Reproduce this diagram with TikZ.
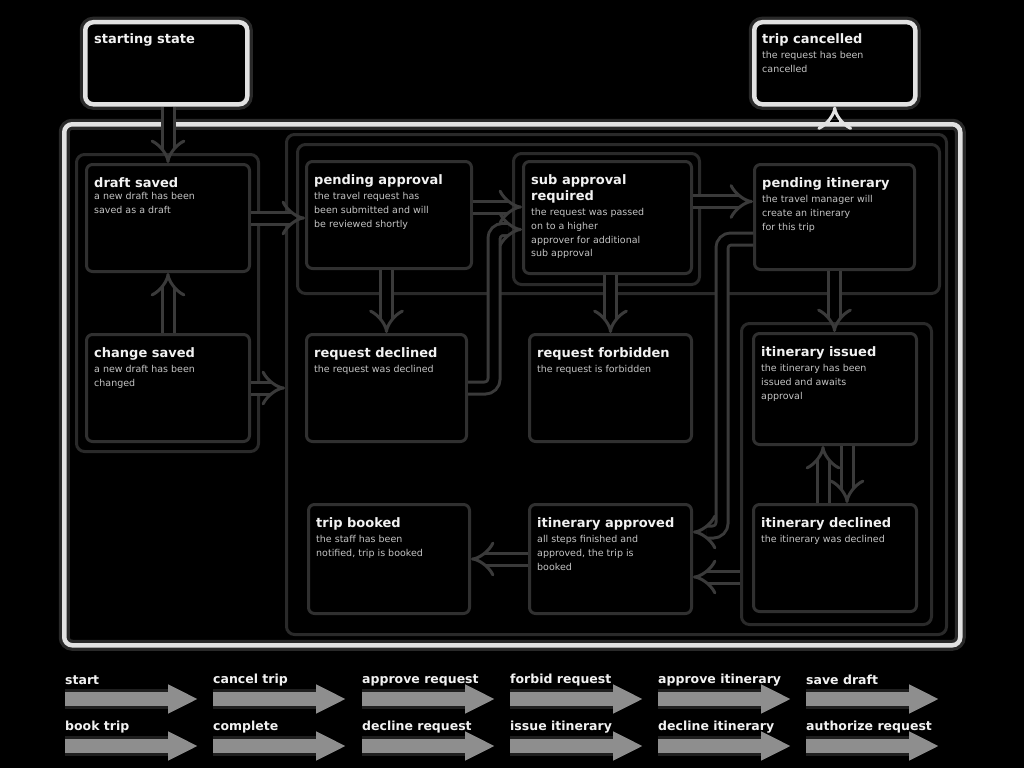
\documentclass[tikz,border=0pt]{standalone}
\usepackage{fontspec}
\setmainfont{DejaVu Sans}
\usetikzlibrary{arrows.meta,calc}
\definecolor{bright}{HTML}{E2E2E2}
\definecolor{boxline}{HTML}{303030}
\definecolor{grpline}{HTML}{2A2A2A}
\definecolor{arrline}{HTML}{3A3A3A}
\definecolor{legarrow}{HTML}{8E8E8E}
\definecolor{titlec}{HTML}{F2F2F2}
\definecolor{descc}{HTML}{C4C4C4}
\tikzset{
  glow/.style={preaction={draw=white, draw opacity=0.16, line width=11pt}},
  brightbox/.style={draw=bright, line width=4.5pt, rounded corners=8pt, anchor=north west, inner sep=0, glow},
  grpbox/.style={draw=grpline, line width=3pt, rounded corners=8pt, anchor=north west, inner sep=0},
  stbox/.style={draw=boxline, line width=3pt, rounded corners=6pt, fill=black, anchor=north west, inner sep=0},
  ttl/.style={anchor=north west, inner sep=0, font=\bfseries\fontsize{13}{16}\selectfont, text=titlec, align=left},
  dsc/.style={anchor=north west, inner sep=0, yshift=-5pt, font=\fontsize{9.5}{13.8}\selectfont, text=descc, align=left},
  fat/.style={draw=arrline, line width=3pt, double=black, double distance=9pt, -{Implies}, rounded corners=9pt},
  fatbright/.style={draw=bright, line width=3pt, double=black, double distance=9pt, -{Implies}},
  legar/.style={draw=legarrow, line width=14pt, -{Triangle[length=30pt,width=27pt]}, preaction={draw=white, draw opacity=0.12, line width=20pt}},
  legtxt/.style={anchor=west, inner sep=0, font=\bfseries\fontsize{12.5}{15}\selectfont, text=titlec}
}
\newcommand{\mkstate}[7]{%
  \node[stbox, minimum width=#4, minimum height=#5] (#1) at (#2,#3) {};
  \node[ttl] (#1-t) at ($(#1.north west)+(9,14)$) {#6};
  \node[dsc] (#1-d) at (#1-t.south west) {#7};
}
\begin{document}
\begin{tikzpicture}[x=1pt,y=-1pt]
\fill[black] (0,0) rectangle (1024,768);
\useasboundingbox (0,0) rectangle (1024,768);

% outer containers
\node[brightbox, minimum width=896, minimum height=521] (outer) at (62,122) {};
\node[grpbox, minimum width=182, minimum height=297] (grpL) at (75,153) {};
\node[grpbox, minimum width=660, minimum height=500] (grpR) at (285,133) {};
\node[grpbox, minimum width=642, minimum height=149] (grpTop) at (296,143) {};
\node[grpbox, minimum width=186, minimum height=131] (grpSub) at (512,152) {};
\node[grpbox, minimum width=190, minimum height=301] (grpII) at (740,322) {};

% top boxes
\node[brightbox, minimum width=162, minimum height=82, fill=black] (start) at (83,20) {};
\node[ttl] (start-t) at ($(start.north west)+(11,13)$) {starting state};
\node[brightbox, minimum width=161, minimum height=82, fill=black] (tc) at (752,20) {};
\node[ttl] (tc-t) at ($(tc.north west)+(10,13)$) {trip cancelled};
\node[dsc] (tc-d) at (tc-t.south west) {the request has been\\cancelled};

% states
\mkstate{draft}{85}{163}{163}{107}{draft saved}{a new draft has been\\saved as a draft}
\mkstate{change}{85}{333}{163}{107}{change saved}{a new draft has been\\changed}
\mkstate{pa}{305}{160}{165}{107}{pending approval}{the travel request has\\been submitted and will\\be reviewed shortly}
\mkstate{sar}{522}{160}{168}{112}{sub approval\\required}{the request was passed\\on to a higher\\approver for additional\\sub approval}
\mkstate{pi}{753}{163}{160}{105}{pending itinerary}{the travel manager will\\create an itinerary\\for this trip}
\mkstate{rd}{305}{333}{160}{107}{request declined}{the request was declined}
\mkstate{rf}{528}{333}{162}{107}{request forbidden}{the request is forbidden}
\mkstate{ii}{752}{332}{163}{111}{itinerary issued}{the itinerary has been\\issued and awaits\\approval}
\mkstate{id}{752}{503}{163}{107}{itinerary declined}{the itinerary was declined}
\mkstate{tb}{307}{503}{161}{109}{trip booked}{the staff has been\\notified, trip is booked}
\mkstate{ia}{528}{503}{162}{109}{itinerary approved}{all steps finished and\\approved, the trip is\\booked}

% transitions
\draw[fat] (draft.north |- start.south) -- (draft.north);
\draw[fat] (change.north) -- (draft.south);
\draw[fat] (draft.east) -- (pa.west |- draft.east);
\draw[fat] (change.east) -- (grpR.west |- change.east);
\draw[fat] (rd.north |- pa.south) -- (rd.north);
\draw[fat] ([yshift=8pt]pa.east) -- ([yshift=8pt]pa.east -| sar.west);
\draw[fat] (rd.east) -- ++(26,0) |- ([yshift=-12pt]sar.west);
\draw[fat] ([yshift=16pt]sar.east) -- ([yshift=16pt]sar.east -| pi.west);
\draw[fat] (rf.north |- sar.south) -- (rf.north);
\draw[fat] (pi.south) -- (pi.south |- ii.north);
\draw[fat] ([xshift=12pt]ii.south) -- ([xshift=12pt]ii.south |- id.north);
\draw[fat] ([xshift=-12pt]id.north) -- ([xshift=-12pt]id.north |- ii.south);
\draw[fat] ([yshift=-22pt]pi.west) -- ++(-31,0) |- ([yshift=27pt]ia.east);
\draw[fat] ([yshift=-18pt]ia.east -| grpII.west) -- ([yshift=-18pt]ia.east);
\draw[fat] (ia.west) -- (ia.west -| tb.east);
\draw[fatbright] (tc.south |- outer.north) -- (tc.south);

% legend
\foreach \x/\a/\b/\n in {65/start/book trip/1, 213/cancel trip/complete/2, 362/approve request/decline request/3, 510/forbid request/issue itinerary/4, 658/approve itinerary/decline itinerary/5, 806/save draft/authorize request/6}{
  \node[legtxt] (lta\n) at (\x,680) {\a};
  \coordinate (lsa\n) at (\x,699);
  \coordinate (lea\n) at (\x+133,699);
  \draw[legar] (lsa\n) -- (lea\n);
  \node[legtxt] (ltb\n) at (\x,727) {\b};
  \coordinate (lsb\n) at (\x,746);
  \coordinate (leb\n) at (\x+133,746);
  \draw[legar] (lsb\n) -- (leb\n);
}
\end{tikzpicture}
\end{document}
